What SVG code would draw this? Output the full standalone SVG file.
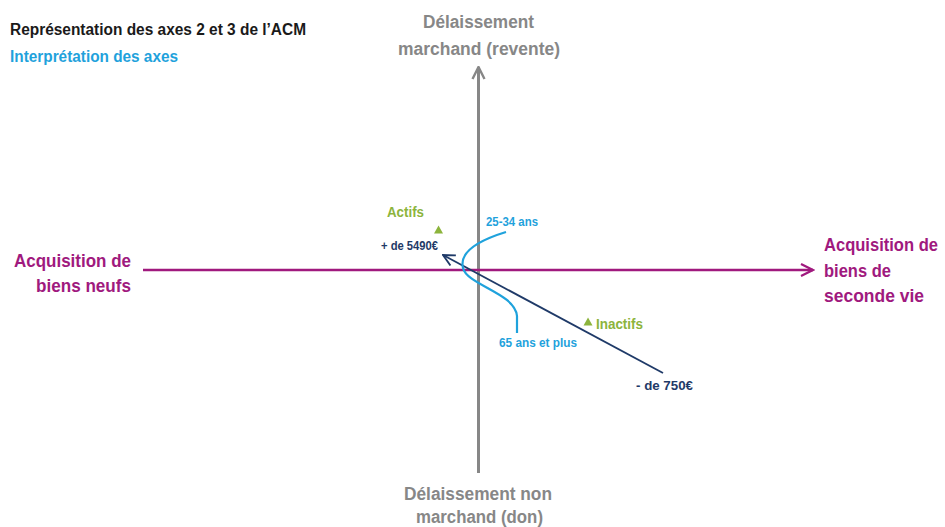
<svg xmlns="http://www.w3.org/2000/svg" width="945" height="527" viewBox="0 0 945 527">
<style>
text{font-family:"Liberation Sans","Arial",sans-serif;font-weight:bold}
.title{font-size:16px;fill:#1a1a1a}
.sub{font-size:16px;fill:#1fa2dc}
.axg{font-size:18px;fill:#878787}
.axp{font-size:19px;fill:#a0197e}
.axr{font-size:18px;fill:#a0197e}
.grn{font-size:14px;fill:#8cb43c}
.nav{font-size:12px;fill:#1f3a68}
.blu{font-size:13px;fill:#1fa2dc}
</style>
<defs>
<marker id="ag" viewBox="0 0 10 10" refX="9" refY="5" markerWidth="5" markerHeight="5" orient="auto" markerUnits="strokeWidth"><path d="M1,1 L9,5 L1,9" fill="none" stroke="#878787" stroke-width="1.6"/></marker>
<marker id="ap" viewBox="0 0 10 10" refX="9" refY="5" markerWidth="6" markerHeight="6" orient="auto" markerUnits="strokeWidth"><path d="M1,1 L9,5 L1,9" fill="none" stroke="#a0197e" stroke-width="1.5"/></marker>
<marker id="an" viewBox="0 0 10 10" refX="9" refY="5" markerWidth="8" markerHeight="8" orient="auto" markerUnits="strokeWidth"><path d="M1,1 L9,5 L1,9" fill="none" stroke="#1f3a68" stroke-width="1.3"/></marker>
</defs>
<g id="titles">
<text class="title" x="10" y="35" textLength="296" lengthAdjust="spacingAndGlyphs">Représentation des axes 2 et 3 de l’ACM</text>
<text class="sub" x="10" y="62" textLength="168" lengthAdjust="spacingAndGlyphs">Interprétation des axes</text>
</g>
<g id="connectors">
<line x1="478.5" y1="473" x2="478.5" y2="67" stroke="#878787" stroke-width="3" marker-end="url(#ag)"/>
<line x1="143" y1="270" x2="813" y2="270" stroke="#a0197e" stroke-width="2.5" marker-end="url(#ap)"/>
<line x1="663" y1="373" x2="443" y2="255" stroke="#1f3a68" stroke-width="1.8" marker-end="url(#an)"/>
<path d="M506,232 C480,240 459,252 463,268 C467,285 515,293 517,316 L517,333" fill="none" stroke="#1fa2dc" stroke-width="2.2"/>
</g>
<g id="axis-top">
<text class="axg" x="478.5" y="28" text-anchor="middle" textLength="111" lengthAdjust="spacingAndGlyphs">Délaissement</text>
<text class="axg" x="479" y="55" text-anchor="middle" textLength="162" lengthAdjust="spacingAndGlyphs">marchand (revente)</text>
</g>
<g id="axis-bottom">
<text class="axg" x="478" y="500" text-anchor="middle" textLength="148" lengthAdjust="spacingAndGlyphs">Délaissement non</text>
<text class="axg" x="479.5" y="523" text-anchor="middle" textLength="127" lengthAdjust="spacingAndGlyphs">marchand (don)</text>
</g>
<g id="axis-left">
<text class="axp" x="14" y="267" textLength="117" lengthAdjust="spacingAndGlyphs">Acquisition de</text>
<text class="axp" x="36" y="292" textLength="95" lengthAdjust="spacingAndGlyphs">biens neufs</text>
</g>
<g id="axis-right">
<text class="axr" x="824" y="251" textLength="114" lengthAdjust="spacingAndGlyphs">Acquisition de</text>
<text class="axr" x="824" y="277" textLength="67" lengthAdjust="spacingAndGlyphs">biens de</text>
<text class="axr" x="824" y="302" textLength="100" lengthAdjust="spacingAndGlyphs">seconde vie</text>
</g>
<g id="actifs">
<text class="grn" x="387" y="217" textLength="37" lengthAdjust="spacingAndGlyphs">Actifs</text>
<polygon points="438.5,225.5 443,233.5 434,233.5" fill="#8cb43c"/>
</g>
<g id="inactifs">
<polygon points="588,317.5 592.5,325.5 583.5,325.5" fill="#8cb43c"/>
<text class="grn" x="596" y="329" textLength="47" lengthAdjust="spacingAndGlyphs">Inactifs</text>
</g>
<g id="revenu-haut"><text class="nav" x="381" y="250" textLength="57" lengthAdjust="spacingAndGlyphs">+ de 5490€</text></g>
<g id="revenu-bas"><text class="nav" x="636" y="390" textLength="57" lengthAdjust="spacingAndGlyphs">- de 750€</text></g>
<g id="age-jeune"><text class="blu" x="486" y="226" textLength="52" lengthAdjust="spacingAndGlyphs">25-34 ans</text></g>
<g id="age-senior"><text class="blu" x="499" y="347" textLength="78" lengthAdjust="spacingAndGlyphs">65 ans et plus</text></g>
</svg>
